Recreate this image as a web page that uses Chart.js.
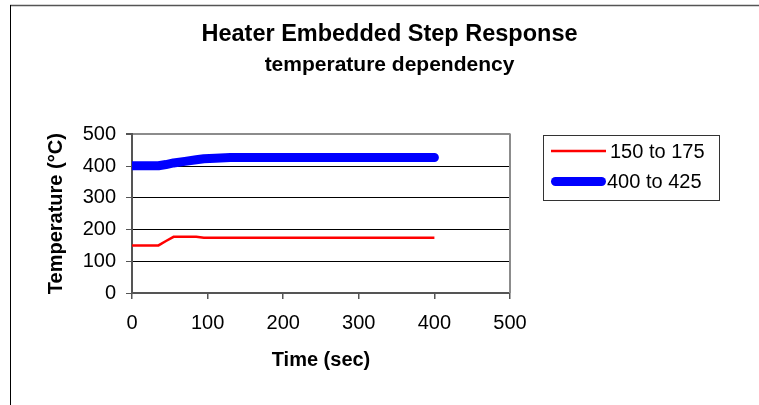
<!DOCTYPE html>
<html>
<head>
<meta charset="utf-8">
<script src="https://cdn.jsdelivr.net/npm/chart.js@4/dist/chart.umd.min.js"></script>
<style>
  html, body { margin: 0; padding: 0; background: #fff; }
  #chart { display: block; }
</style>
</head>
<body>
<canvas id="chart" width="759" height="405"></canvas>
<script>
// values
const timeSec = [0, 20, 35, 45, 55, 70, 85, 95, 110, 130, 160, 200, 250, 300, 350, 375, 400];
const series150to175 = [150, 150, 150, 164, 177, 177, 177, 174, 174, 174, 174, 174, 174, 174, 174, 174, 174];
const series400to425 = [401, 401, 401, 405, 410, 415, 420, 423, 425, 427, 427, 427, 427, 427, 427, 427, 427];
const seriesLabels = ['150 to 175', '400 to 425'];
const yTicks = [0, 100, 200, 300, 400, 500];
const xTicks = [0, 100, 200, 300, 400, 500];

const FONT = '"Liberation Sans", Arial, sans-serif';

function toPoints(ys) {
    return timeSec.map((t, i) => ({ x: t, y: ys[i] }));
}

// outer frame (only top and left edges are visible in the original)
const framePlugin = {
    id: 'frame',
    beforeDraw(chart) {
        const ctx = chart.ctx;
        ctx.save();
        ctx.fillStyle = '#fff';
        ctx.fillRect(0, 0, chart.width, chart.height);
        ctx.lineWidth = 1.5;
        ctx.strokeStyle = '#555';
        ctx.beginPath();
        ctx.moveTo(10, 5.5);
        ctx.lineTo(chart.width, 5.5);
        ctx.stroke();
        ctx.strokeStyle = '#000';
        ctx.lineWidth = 1;
        ctx.beginPath();
        ctx.moveTo(10.5, 5);
        ctx.lineTo(10.5, chart.height);
        ctx.stroke();
        ctx.restore();
    },
    afterDatasetsDraw(chart) {
        // right edge of plot area
        const { ctx, chartArea } = chart;
        ctx.save();
        ctx.strokeStyle = '#8c8c8c';
        ctx.lineWidth = 2;
        ctx.beginPath();
        ctx.moveTo(chartArea.right, chartArea.top - 1);
        ctx.lineTo(chartArea.right, chartArea.bottom);
        ctx.stroke();
        ctx.restore();
    }
};

// boxed legend to the right, like the Excel one
const boxLegend = {
    id: 'boxLegend',
    afterDraw(chart) {
        const ctx = chart.ctx;
        ctx.save();
        ctx.strokeStyle = '#333';
        ctx.lineWidth = 1;
        ctx.strokeRect(543.5, 135.5, 176, 65);
        const rows = [151, 181.5];
        chart.data.datasets.forEach((ds, i) => {
            const y = rows[i];
            ctx.strokeStyle = ds.borderColor;
            ctx.lineWidth = ds.borderWidth;
            ctx.lineCap = ds.borderCapStyle || 'butt';
            const inset = ds.borderCapStyle === 'round' ? ds.borderWidth / 2 : 0;
            ctx.beginPath();
            ctx.moveTo(551 + inset, y);
            ctx.lineTo(606 - inset, y);
            ctx.stroke();
            ctx.fillStyle = '#000';
            ctx.font = '20px ' + FONT;
            ctx.textBaseline = 'middle';
            ctx.textAlign = 'left';
            ctx.fillText(ds.label, i === 0 ? 610 : 607, y + 1);
        });
        ctx.restore();
    }
};

new Chart(document.getElementById('chart'), {
    type: 'line',
    data: {
        datasets: [{
            label: seriesLabels[0],
            data: toPoints(series150to175),
            borderColor: '#ff0000',
            borderWidth: 2.5,
            pointRadius: 0,
            tension: 0,
        }, {
            label: seriesLabels[1],
            data: toPoints(series400to425),
            borderColor: '#0000ff',
            borderWidth: 9,
            borderCapStyle: 'round',
            borderJoinStyle: 'round',
            pointRadius: 0,
            tension: 0,
        }]
    },
    options: {
        responsive: false,
        animation: false,
        devicePixelRatio: 1,
        layout: { padding: { left: 20, right: 0, top: 0, bottom: 0 } },
        scales: {
            x: {
                type: 'linear',
                min: 0,
                max: 500,
                afterBuildTicks: (s) => { s.ticks = xTicks.map(v => ({ value: v })); },
                afterFit: (s) => { s.height = 112; },
                ticks: { color: '#000', padding: 12, font: { family: FONT, size: 20 } },
                grid: { drawOnChartArea: false, drawTicks: true, tickLength: 6, color: '#555', lineWidth: 1.5 },
                border: { display: true, color: '#555', width: 2 },
                title: {
                    display: true,
                    text: 'Time (sec)',
                    color: '#000',
                    font: { family: FONT, size: 20, weight: 'bold' },
                    padding: { top: 0, bottom: 33 }
                }
            },
            y: {
                min: 0,
                max: 500,
                afterBuildTicks: (s) => { s.ticks = yTicks.map(v => ({ value: v })); },
                afterFit: (s) => { s.width = 112; },
                ticks: { color: '#000', padding: 10, font: { family: FONT, size: 20 } },
                grid: {
                    color: (c) => c.tick && c.tick.value === 500 ? '#8c8c8c' : '#000',
                    lineWidth: (c) => c.tick && c.tick.value === 500 ? 2 : 1,
                    tickColor: '#555',
                    tickLength: 6
                },
                border: { display: true, color: '#555', width: 2 },
                title: {
                    display: true,
                    text: 'Temperature (°C)',
                    color: '#000',
                    font: { family: FONT, size: 20, weight: 'bold' },
                    padding: { top: 24.5, bottom: 0 }
                }
            },
            // empty space on the right where the legend box sits
            spacer: {
                type: 'linear',
                position: 'right',
                min: 0,
                max: 1,
                afterFit: (s) => { s.width = 249; },
                ticks: { display: false },
                grid: { display: false },
                border: { display: false }
            }
        },
        plugins: {
            legend: { display: false },
            tooltip: { enabled: false },
            title: {
                display: true,
                text: 'Heater Embedded Step Response',
                color: '#000',
                font: { family: FONT, size: 23.5, weight: 'bold' },
                padding: { top: 20, bottom: 3 }
            },
            subtitle: {
                display: true,
                text: 'temperature dependency',
                color: '#000',
                font: { family: FONT, size: 21, weight: 'bold' },
                padding: { top: 1, bottom: 57 }
            }
        }
    },
    plugins: [framePlugin, boxLegend]
});
</script>
</body>
</html>
